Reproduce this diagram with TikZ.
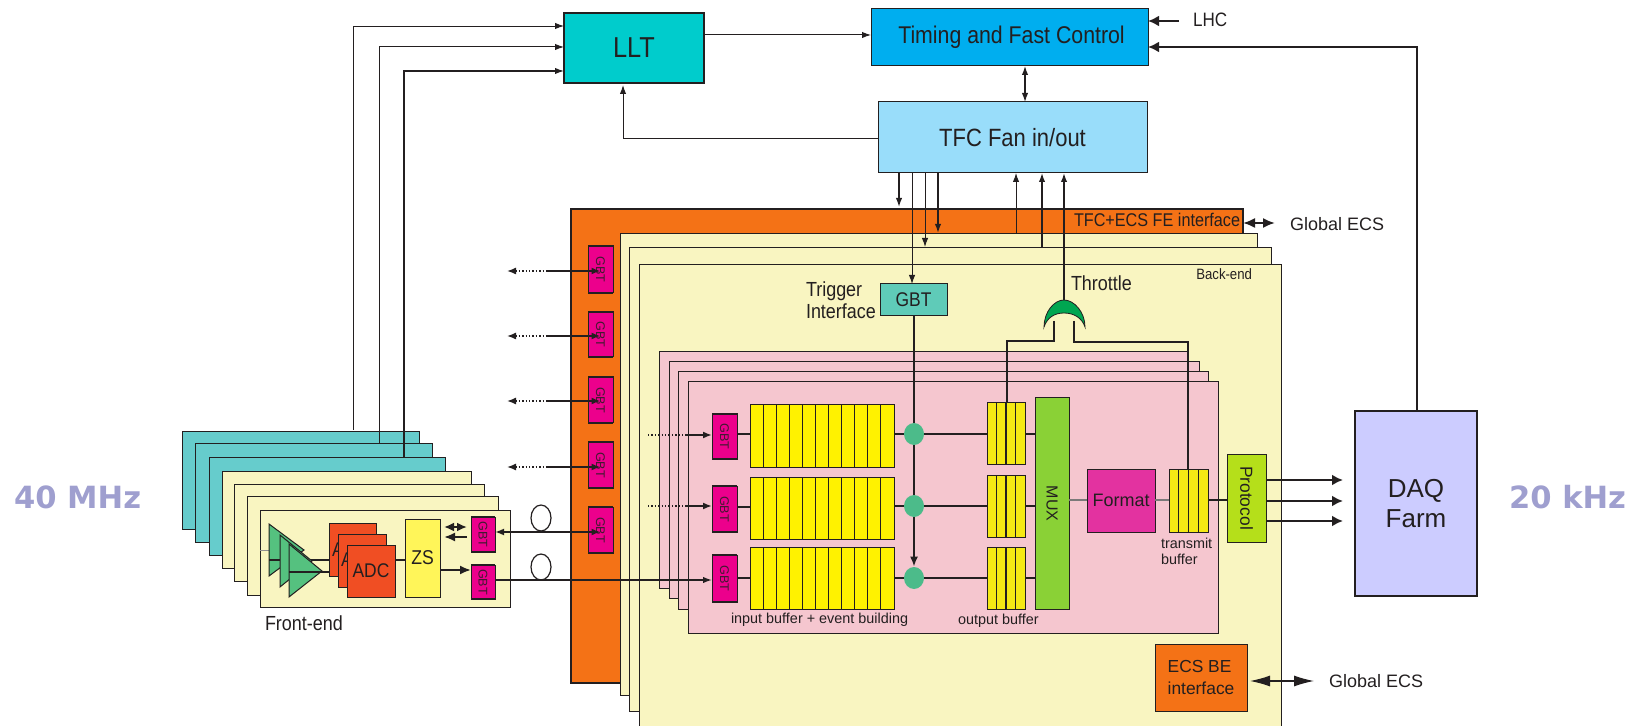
\documentclass[tikz,border=0pt]{standalone}
\usepackage{fontspec}
\setmainfont{Liberation Sans}
\newfontfamily\dvb{DejaVu Sans}
\newfontfamily\cond[FakeStretch=0.88]{Liberation Sans}
\usetikzlibrary{arrows.meta,calc,shapes.geometric}
\definecolor{ink}{HTML}{231F20}
\definecolor{cardcyan}{HTML}{66CCCC}
\definecolor{cardyel}{HTML}{F9F5C1}
\definecolor{orng}{HTML}{F47216}
\definecolor{cardpink}{HTML}{F5C6CF}
\definecolor{magen}{HTML}{EC008C}
\definecolor{yel}{HTML}{FFF200}
\definecolor{yelb}{HTML}{F5E914}
\definecolor{muxg}{HTML}{8AD136}
\definecolor{fmt}{HTML}{E332A0}
\definecolor{proto}{HTML}{B5DF1A}
\definecolor{lltc}{HTML}{00CCCC}
\definecolor{tim}{HTML}{00AEEF}
\definecolor{fan}{HTML}{99DDFA}
\definecolor{daq}{HTML}{CCCCFF}
\definecolor{adc}{HTML}{F04E23}
\definecolor{zsc}{HTML}{FFF559}
\definecolor{amp}{HTML}{55C17F}
\definecolor{junc}{HTML}{4CBB8A}
\definecolor{trg}{HTML}{5FCBB8}
\definecolor{rate}{HTML}{9F9FCF}
\definecolor{orgate}{HTML}{00A651}
\tikzset{
  x=0.5pt,y=-0.5pt,
  base/.style={draw=ink,line width=0.5pt,inner sep=0pt,outer sep=0pt,text=ink,align=center},
  lbl/.style={inner sep=0pt,outer sep=0pt,text=ink,align=left},
  arr/.style={draw=ink,line width=0.55pt,-{Latex[length=4.5pt,width=3.2pt]}},
  darr/.style={draw=ink,line width=0.6pt,{Latex[length=4.5pt,width=3.2pt]}-{Latex[length=4.5pt,width=3.2pt]}},
  harr/.style={draw=ink,line width=1pt,-{Latex[length=5.5pt,width=4.5pt]}},
  bigarr/.style={draw=ink,line width=1.1pt,-{Latex[length=5.5pt,width=5.5pt]}},
  wire/.style={draw=ink,line width=0.55pt},
  hwire/.style={draw=ink,line width=0.9pt},
  gbtsty/.style={base,fill=magen,font=\fontsize{6.3}{7}\selectfont,text=ink!85!magen},
  inbuf/.style={base,fill=yel},
  outbuf/.style={base,fill=yelb},
  rateText/.style={lbl,text=rate,font=\dvb\bfseries\fontsize{15.3}{18}\selectfont,anchor=west},
}
\newcommand\bx[7]{\node[#1,minimum width={(#5-#3)*0.5pt},minimum height={(#6-#4)*0.5pt}] (#2) at ({(#3+#5)/2},{(#4+#6)/2}) {#7};}
\newcommand\cellsof[2]{\foreach \i in {1,...,#2}{\ifnum\i<#2\relax\draw[wire] ($(#1.north west)!\i/#2!(#1.north east)$) -- ($(#1.south west)!\i/#2!(#1.south east)$);\fi}}
\newcommand\caps[1]{\draw[line width=1.1pt,draw=ink] (#1.north west)--(#1.north east) (#1.south west)--(#1.south east);}
\begin{document}
\begin{tikzpicture}
\useasboundingbox (0,0) rectangle (1636,726);
% rates
\node[rateText] (r40) at (14,497) {40 MHz};
\node[rateText] (r20) at (1509,497) {20 kHz};
% front-end cards
\bx{base,fill=cardcyan}{c1}{182}{432}{419}{529}{}
\bx{base,fill=cardcyan}{c2}{195}{444}{432}{542}{}
\bx{base,fill=cardcyan}{c3}{209}{457}{445}{555}{}
\bx{base,fill=cardyel}{f1}{222}{471}{471}{568}{}
\bx{base,fill=cardyel}{f2}{234}{484}{484}{581}{}
\bx{base,fill=cardyel}{f3}{247}{496}{498}{595}{}
\bx{base,fill=cardyel}{f4}{260}{510}{510}{607}{}
\draw[draw=ink!50,line width=0.5pt] (f4.west|-0,550) -- (300,550);
\draw[base,fill=amp] (269,524) -- (304,550) -- (269,576) -- cycle;
\draw[wire] (269,560) -- (347,560);
\draw[base,fill=amp] (280,535) -- (312,561) -- (280,587) -- cycle;
\draw[base,fill=amp] (289,544) -- (322,571) -- (289,597) -- cycle;
\draw[wire] (289,572) -- (347,572);
\bx{base,fill=adc}{adc1}{329}{523}{376}{576}{}
\node[lbl,font=\cond\fontsize{9.9}{11}\selectfont,anchor=west] (adcA1) at (332,550) {A};
\bx{base,fill=adc}{adc2}{338}{534}{386}{587}{}
\node[lbl,font=\cond\fontsize{9.9}{11}\selectfont,anchor=west] (adcA2) at (341,560) {A};
\bx{base,fill=adc,font=\cond\fontsize{9.9}{11}\selectfont}{adc3}{347}{545}{395}{597}{ADC}
\bx{base,fill=zsc,font=\cond\fontsize{10}{11}\selectfont}{zs}{405}{519}{440}{597}{ZS}
\draw[wire] (adc3.east|-0,560) -- (zs.west|-0,560);
\bx{gbtsty}{fg1}{471}{517}{495}{552}{\rotatebox{-90}{GBT}}
\bx{gbtsty}{fg2}{471}{565}{495}{599}{\rotatebox{-90}{GBT}}
\draw[harr,{Latex[length=5pt,width=4.5pt]}-{Latex[length=5pt,width=4.5pt]}] (444,527) -- (467,527);
\draw[harr] (467,537) -- (444,537);
\draw[harr] (zs.east|-0,570) -- (fg2.west|-0,570);
\node[lbl,font=\cond\fontsize{10.2}{11}\selectfont,anchor=west] (felab) at (265,623) {Front-end};
% fibre loops
\node[draw=ink,line width=0.6pt,ellipse,minimum width=10pt,minimum height=13pt,inner sep=0pt] (loopa) at (541,518) {};
\node[draw=ink,line width=0.6pt,ellipse,minimum width=10pt,minimum height=13pt,inner sep=0pt] (loopb) at (541,567) {};
% back-end
\bx{base,fill=orng,line width=0.8pt}{orange}{571}{209}{1243}{683}{}
\bx{base,fill=cardyel}{be1}{620}{234}{1257}{695}{}
\bx{base,fill=cardyel}{be2}{629}{248}{1271}{711}{}
\bx{base,fill=cardyel}{be3}{639}{265}{1281}{728}{}
\foreach \n/\a/\b in {lg1/246/293,lg2/312/357,lg3/377/423,lg4/442/488,lg5/507/553}{
  \bx{gbtsty}{\n}{588}{\a}{613}{\b}{\rotatebox{-90}{GBT}}
  \caps{\n}
}
\caps{fg1}\caps{fg2}
\node[lbl,font=\cond\fontsize{9.2}{10}\selectfont,anchor=east] (tfcecs) at (1240,220) {TFC+ECS FE interface};
\node[lbl,font=\cond\fontsize{7.5}{9}\selectfont,anchor=east] (belab) at (1252,274) {Back-end};
\foreach \s/\y in {s1/271,s2/336,s3/401,s4/467}{
  \coordinate (\s) at (507,\y);
  \draw[draw=ink,line width=0.7pt,densely dotted,{Latex[length=4.5pt,width=3.5pt]}-] (\s) -- (546,\y);
}
\draw[harr,-{Latex[length=4.5pt,width=3.5pt]}] (546,271) -- (lg1.center|-0,271);
\draw[harr,-{Latex[length=4.5pt,width=3.5pt]}] (546,336) -- (lg2.center|-0,336);
\draw[harr,-{Latex[length=4.5pt,width=3.5pt]}] (546,401) -- (lg3.center|-0,401);
\draw[harr,-{Latex[length=4.5pt,width=3.5pt]}] (546,467) -- (lg4.center|-0,467);
\draw[harr,{Latex[length=4.5pt,width=3.5pt]}-{Latex[length=4.5pt,width=3.5pt]}] (fg1.east|-0,532) -- (lg5.center|-0,532);
% pink cards
\bx{base,fill=cardpink}{p1}{659}{352}{1188}{588}{}
\bx{base,fill=cardpink}{p2}{669}{362}{1199}{598}{}
\bx{base,fill=cardpink}{p3}{678}{372}{1208}{609}{}
\bx{base,fill=cardpink}{p4}{688}{382}{1218}{633}{}
\draw[wire] (fg2.east|-0,580) -- (p4.west|-0,580);
% inner blocks
\foreach \n/\a/\b in {bg1/414/459,bg2/486/532,bg3/555/602}{
  \bx{gbtsty}{\n}{712}{\a}{737}{\b}{\rotatebox{-90}{GBT}}
  \caps{\n}
}
\bx{inbuf}{ib1}{750}{405}{894}{467}{}
\bx{inbuf}{ib2}{750}{477}{894}{539}{}
\bx{inbuf}{ib3}{750}{547}{894}{609}{}
\cellsof{ib1}{11}\cellsof{ib2}{11}\cellsof{ib3}{11}
\bx{outbuf}{ob1}{987}{403}{1025}{464}{}
\bx{outbuf}{ob2}{987}{475}{1025}{537}{}
\bx{outbuf}{ob3}{987}{547}{1025}{609}{}
\cellsof{ob1}{4}\cellsof{ob2}{4}\cellsof{ob3}{4}
\bx{base,fill=muxg,font=\fontsize{8}{9}\selectfont}{mux}{1035}{398}{1069}{609}{\rotatebox{-90}{MUX}}
\bx{base,fill=fmt,font=\fontsize{9}{10}\selectfont}{format}{1087}{469}{1155}{532}{Format}
\bx{outbuf}{tb}{1169}{469}{1208}{532}{}
\cellsof{tb}{4}
\bx{base,fill=proto,font=\fontsize{8.7}{10}\selectfont}{protocol}{1227}{454}{1266}{542}{\rotatebox{-90}{Protocol}}
\node[lbl,font=\fontsize{7.2}{8}\selectfont,anchor=west] (tblab) at (1161,543) {transmit};
\node[lbl,font=\fontsize{7.2}{8}\selectfont,anchor=west] (tblab2) at (1161,559) {buffer};
\node[lbl,font=\fontsize{7.2}{8}\selectfont,anchor=west] (iblab) at (731,620) {input buffer + event building};
\node[lbl,font=\fontsize{7.2}{8}\selectfont,anchor=west] (oblab) at (958,621) {output buffer};
% top blocks
\bx{base,fill=lltc,line width=1pt,font=\cond\fontsize{14.4}{16}\selectfont}{llt}{564}{13}{704}{83}{LLT}
\draw[draw=ink,line width=1.2pt] (llt.north west) -- (llt.north east);
\bx{base,fill=tim,font=\cond\fontsize{12.1}{14}\selectfont}{timing}{871}{9}{1148}{66}{\hspace*{2pt}Timing and Fast Control}
\bx{base,fill=fan,font=\cond\fontsize{12.5}{14}\selectfont}{tfcfan}{878}{102}{1147}{173}{TFC Fan in/out}
\bx{base,fill=trg,font=\cond\fontsize{9.9}{11}\selectfont}{gbttrig}{880}{284}{947}{316}{GBT}
\node[lbl,font=\cond\fontsize{10.2}{11}\selectfont,anchor=west] (trig1) at (806,291) {Trigger};
\node[lbl,font=\cond\fontsize{10.2}{11}\selectfont,anchor=west] (trig2) at (806,311) {Interface};
\node[lbl,font=\cond\fontsize{10.2}{11}\selectfont,anchor=west] (thr) at (1071,283) {Throttle};
\node[lbl,font=\cond\fontsize{9.7}{11}\selectfont,anchor=west] (lhc) at (1193,20) {LHC};
\node[lbl,font=\fontsize{9}{10}\selectfont,anchor=west] (glob1) at (1290,224) {Global ECS};
\node[lbl,font=\fontsize{9}{10}\selectfont,anchor=west] (glob2) at (1329,681) {Global ECS};
\bx{base,fill=orng,font=\fontsize{8.7}{10}\selectfont,align=left}{ecsbe}{1155}{644}{1247}{711}{ECS BE\\[1pt]interface}
\bx{base,fill=daq,line width=1pt,font=\fontsize{13}{15}\selectfont}{daqf}{1355}{411}{1477}{596}{DAQ\\Farm}
% OR gate
\coordinate (gatetop) at (1064,300);
\coordinate (gatel) at (1054,321);
\coordinate (gater) at (1074,321);
\draw[draw=ink,line width=0.4pt,fill=orgate] (1044,327) .. controls (1044,312) and (1054,300) .. (gatetop) .. controls (1074,300) and (1085,312) .. (1085,327) .. controls (1082,318) and (1074,313) .. (1064,313) .. controls (1054,313) and (1047,318) .. (1044,327) -- cycle;
% junctions
\node[draw=none,fill=junc,ellipse,minimum width=10pt,minimum height=11pt,inner sep=0pt] (j1) at (914,434) {};
\node[draw=none,fill=junc,ellipse,minimum width=10pt,minimum height=11pt,inner sep=0pt] (j2) at (914,506) {};
\node[draw=none,fill=junc,ellipse,minimum width=10pt,minimum height=11pt,inner sep=0pt] (j3) at (914,578) {};
% data path
\draw[wire] (bg1.east|-0,434) -- (ib1.west|-0,434);
\draw[wire] (bg2.east|-0,507) -- (ib2.west|-0,507);
\draw[hwire] (bg3.east|-0,578) -- (ib3.west|-0,578);
\draw[wire] (ib1.east|-0,434) -- (j1);
\draw[wire] (j1) -- (ob1.west|-0,434);
\draw[hwire] (ib2.east|-0,506) -- (j2);
\draw[hwire] (j2) -- (ob2.west|-0,506);
\draw[wire] (ib3.east|-0,578) -- (j3);
\draw[wire] (j3) -- (ob3.west|-0,578);
\draw[wire] (ob1.east|-0,434) -- (mux.west|-0,434);
\draw[hwire] (ob2.east|-0,506) -- (mux.west|-0,506);
\draw[wire] (ob3.east|-0,578) -- (mux.west|-0,578);
\draw[wire,draw=ink!60] (mux.east|-0,500) -- (format.west|-0,500);
\draw[wire,draw=ink!60] (format.east|-0,500) -- (tb.west|-0,500);
\draw[hwire] (tb.east|-0,500) -- (protocol.west|-0,500);
\draw[hwire] (gbttrig.south-|j1) -- (j1);
\draw[hwire] (j1) -- (j2);
\draw[hwire,-{Latex[length=5pt,width=4pt]}] (j2) -- (j3.north);
% dotted inputs
\coordinate (in1) at (648,435);
\coordinate (in2) at (648,506);
\draw[draw=ink,line width=0.7pt,densely dotted] (in1) -- (685,435);
\draw[draw=ink,line width=0.7pt,densely dotted] (in2) -- (685,506);
\draw[harr,-{Latex[length=4.5pt,width=3.5pt]}] (685,435) -- (bg1.west|-0,435);
\draw[harr,-{Latex[length=4.5pt,width=3.5pt]}] (685,506) -- (bg2.west|-0,506);
\draw[arr,line width=.7pt] (p4.west|-0,580) -- (bg3.west|-0,580);
% Protocol to DAQ
\coordinate (daqin1) at (1343,480);
\coordinate (daqin2) at (1343,501);
\coordinate (daqin3) at (1343,521);
\draw[bigarr] (protocol.east|-daqin1) -- (daqin1);
\draw[bigarr] (protocol.east|-daqin2) -- (daqin2);
\draw[bigarr] (protocol.east|-daqin3) -- (daqin3);
% throttle
\draw[hwire] (gatel) -- (gatel|-0,341) -- (1007,341) -- (1007,403);
\draw[hwire] (gater) -- (gater|-0,342) -- (1188,342) -- (1188,469);
\draw[arr,line width=0.8pt] (gatetop) -- (gatetop|-tfcfan.south);
% top connectors
\draw[arr,line width=.5pt] (llt.east|-0,35) -- (timing.west|-0,35);
\draw[darr] (timing.south-|1025,0) -- (tfcfan.north-|1025,0);
\draw[arr,line width=.5pt] (tfcfan.west|-0,139) -- (623,139) -- (623,85);
\coordinate (lhcsrc) at (1179,21);
\draw[bigarr] (lhcsrc) -- (timing.east|-lhcsrc);
\draw[bigarr] (daqf.north-|1417,0) -- (1417,47) -- (timing.east|-0,47);
\draw[arr,line width=.45pt] (353,430) -- (353,26) -- (llt.west|-0,26);
\draw[arr,line width=.5pt] (379,444) -- (379,47) -- (llt.west|-0,47);
\draw[arr,line width=.6pt] (404,457) -- (404,71) -- (llt.west|-0,71);
\draw[arr,line width=.7pt] (tfcfan.south-|899,0) -- (899,207);
\draw[arr,line width=.45pt] (tfcfan.south-|912,0) -- (gbttrig.north-|912,0);
\draw[arr,line width=.45pt] (tfcfan.south-|925,0) -- (925,247);
\draw[arr,line width=.8pt] (tfcfan.south-|938,0) -- (938,233);
\draw[arr,line width=.45pt] (1016,234) -- (tfcfan.south-|1016,0);
\draw[arr,line width=.7pt] (1042,248) -- (tfcfan.south-|1042,0);
% global ECS
\coordinate (ge1) at (1275,223);
\draw[darr,line width=1pt,{Latex[length=6pt,width=5pt]}-{Latex[length=6pt,width=5pt]}] (orange.east|-ge1) -- (ge1);
\coordinate (ge2) at (1314,681);
\draw[draw=ink,line width=0.6pt,{Latex[length=10pt,width=5.5pt]}-{Latex[length=10pt,width=5.5pt]}] (1250,681) -- (ge2);
\end{tikzpicture}
\end{document}
